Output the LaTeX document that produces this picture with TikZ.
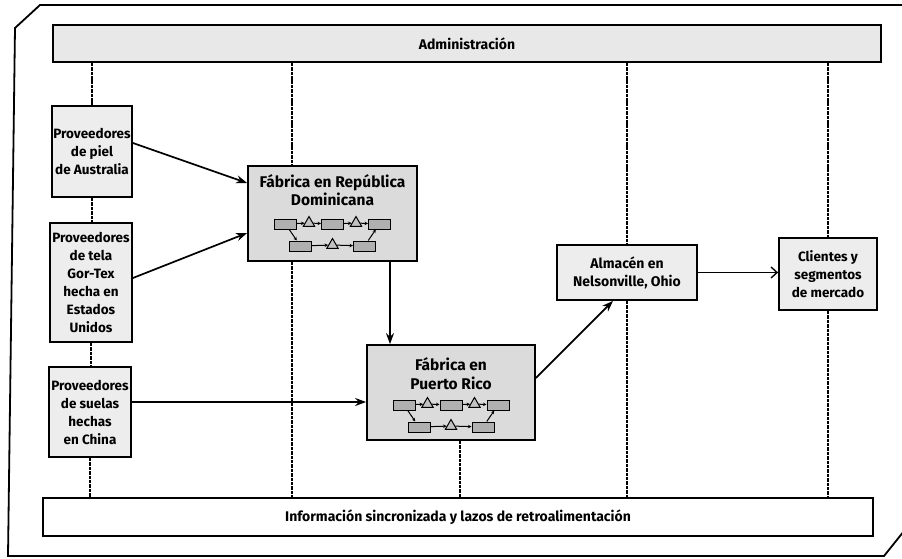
\documentclass[tikz,border=0pt]{standalone}
\usepackage{fontspec}
\setmainfont{Fira Sans}
\usetikzlibrary{arrows.meta,calc,shapes.geometric}

\tikzset{
  frameline/.style={line width=1.8pt},
  box/.style={draw, line width=1.8pt, fill=gray!14, align=center, inner sep=0pt,
    font=\bfseries\fontsize{13.5}{18}\selectfont},
  factory/.style={box, fill=gray!28},
  bar/.style={draw, line width=1.8pt, inner sep=0pt, font=\bfseries\fontsize{14}{16}\selectfont},
  title/.style={align=center, inner sep=0pt, font=\bfseries\fontsize{15.5}{18.5}\selectfont},
  link/.style={line width=2.2pt, dash pattern=on 3.5pt off 0.9pt},
  flow/.style={line width=1.7pt, -{Stealth[length=11pt,width=8pt]}},
  openflow/.style={line width=1.7pt, -{Straight Barb[length=6pt,width=11pt,line width=1.4pt]}},
  icorect/.style={draw, line width=1pt, fill=gray!62, minimum width=22pt, minimum height=10pt, inner sep=0pt},
  icotri/.style={draw, line width=1pt, fill=gray!48, regular polygon, regular polygon sides=3,
    minimum size=13pt, inner sep=0pt},
  icoarrow/.style={line width=1pt, -{Stealth[length=3.5pt,width=3.5pt]}},
  pics/flowrow/.style={code={
    \node[icorect] (-r1) at (-47,0) {};
    \node[icotri]  (-t1) at (-23.5,-1) {};
    \node[icorect] (-r2) at (0,0) {};
    \node[icotri]  (-t2) at (23.5,-1) {};
    \node[icorect] (-r3) at (47,0) {};
    \node[icorect] (-r4) at (-32,22) {};
    \node[icotri]  (-t3) at (0,21) {};
    \node[icorect] (-r5) at (32,22) {};
    \draw[icoarrow] (-r1) -- (-t1);
    \draw[icoarrow] (-t1) -- (-r2);
    \draw[icoarrow] (-r2) -- (-t2);
    \draw[icoarrow] (-t2) -- (-r3);
    \draw[icoarrow] (-r1) -- (-r4);
    \draw[icoarrow] (-r4) -- (-t3);
    \draw[icoarrow] (-t3) -- (-r5);
    \draw[icoarrow] (-r5) -- (-r3);
  }}
}

\begin{document}
\begin{tikzpicture}[x=1pt,y=-1pt]
\useasboundingbox (0,0) rectangle (902,559);

% outer frame with clipped corners
\draw[frameline] (15,28) -- (40,5) -- (904,5) -- (904,531) -- (884,556) -- (8,556) -- cycle;

% management and information bars
\node[bar, fill=gray!18, minimum width=828pt, minimum height=37pt] (admin) at (467,43.5) {Administración};
\node[bar, fill=white, minimum width=830pt, minimum height=38pt] (info) at (458,517) {Información sincronizada y lazos de retroalimentación};

% suppliers
\node[box, minimum width=80pt, minimum height=91pt] (b1) at (92,151.5) {Proveedores\\de piel\\de Australia};
\node[box, minimum width=82pt, minimum height=119pt] (b2) at (91,282.5) {Proveedores\\de tela\\Gor-Tex\\hecha en\\Estados\\Unidos};
\node[box, minimum width=82pt, minimum height=90pt] (b3) at (90,412) {Proveedores\\de suelas\\hechas\\en China};

% factories
\node[factory, minimum width=169pt, minimum height=95pt] (dom) at (332.5,213.5) {};
\node[title] (domt) at (332.5,190) {Fábrica en República\\Dominicana};
\pic (domf) at (332.5,224) {flowrow};

\node[factory, minimum width=168pt, minimum height=95pt] (pr) at (451,392.5) {};
\node[title] (prt) at (451,373.5) {Fábrica en\\Puerto Rico};
\pic (prf) at (451,405) {flowrow};

% distribution and customers
\node[box, minimum width=140pt, minimum height=55pt, font=\bfseries\fontsize{14}{18}\selectfont] (alm) at (627,272.5) {Almacén en\\Nelsonville, Ohio};
\node[box, minimum width=98pt, minimum height=72pt] (cli) at (828,274) {Clientes y\\segmentos\\de mercado};

% x positions of the vertical information links
\coordinate (xa) at (292,0);
\coordinate (xb) at (390,0);
\coordinate (xc) at (460,0);

% vertical links between the bars and the stages
\draw[link] (admin.south -| b1.north) -- (b1.north);
\draw[link] (b1.south) -- (b1.south |- b2.north);
\draw[link] (b2.south) -- (b2.south |- b3.north);
\draw[link] (b3.south) -- (b3.south |- info.north);
\draw[link] (admin.south -| xa) -- (dom.north -| xa);
\draw[link] (dom.south -| xa) -- (info.north -| xa);
\draw[link] (pr.south -| xc) -- (info.north -| xc);
\draw[link] (admin.south -| alm.north) -- (alm.north);
\draw[link] (alm.south) -- (alm.south |- info.north);
\draw[link] (admin.south -| cli.north) -- (cli.north);
\draw[link] (cli.south) -- (cli.south |- info.north);

% material flow
\draw[flow] ($(b1.east)+(0,-8.5)$) -- ($(dom.west)+(0,-30.5)$);
\draw[flow] ($(b2.east)+(0,-4.5)$) -- ($(dom.west)+(0,19.5)$);
\draw[flow] ($(b3.east)+(0,-10)$) -- ($(pr.west)+(0,9.5)$);
\draw[flow] (dom.south -| xb) -- (pr.north -| xb);
\draw[flow] ($(pr.east)+(0,-14.5)$) -- ($(alm.south)+(-14,0)$);
\draw[openflow] (alm.east) -- (alm.east -| cli.west);
\end{tikzpicture}
\end{document}
